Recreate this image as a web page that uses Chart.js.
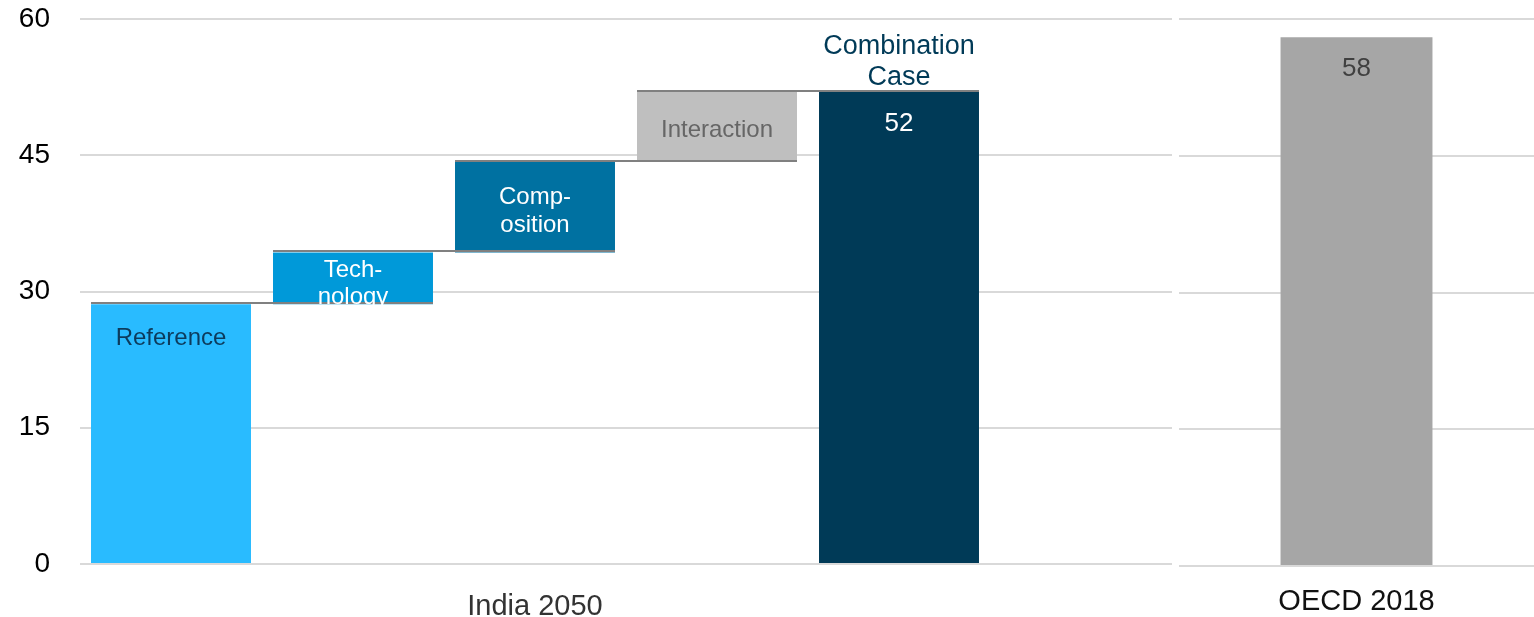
<!DOCTYPE html>
<html>
<head>
<meta charset="utf-8">
<script src="https://cdn.jsdelivr.net/npm/chart.js@4.4.1/dist/chart.umd.min.js"></script>
<style>
	html, body { margin: 0; padding: 0; background: #fff; }
	#india { position: absolute; left: 0; top: 0; width: 1173px; height: 617px; }
	#oecd { position: absolute; left: 1173px; top: 0; width: 361px; height: 617px; }
</style>
</head>
<body>
<div id="india"><canvas id="chart-india"></canvas></div>
<div id="oecd"><canvas id="chart-oecd"></canvas></div>
<script>
// India 2050 waterfall steps (low / high of each floating bar)
const indiaLabels = ['Reference', 'Technology', 'Composition', 'Interaction', 'Combination Case', ''];
const indiaLow = [0, 28.6, 34.3, 44.3, 0];
const indiaHigh = [28.6, 34.3, 44.3, 52, 52];
const indiaColors = ['#29bbff', '#0099d9', '#0071a1', '#bfbfbf', '#003a57'];

const oecdLabels = ['OECD 2018'];
const oecdValues = [58];

const yTicks = [0, 15, 30, 45, 60];

const FONT = "'Liberation Sans', Arial, sans-serif";
const gridColor = '#d9d9d9';

function yScale(showTicks, axisWidth) {
	return {
		min: yTicks[0],
		max: yTicks[yTicks.length - 1],
		afterBuildTicks: (scale) => { scale.ticks = yTicks.map(v => ({value: v})); },
		afterFit: (scale) => {
			scale.width = axisWidth;
			scale.paddingTop = 0;
			scale.paddingBottom = 0;
		},
		border: {display: false},
		grid: {color: gridColor, lineWidth: 2, drawTicks: false, tickLength: 0},
		ticks: {
			display: showTicks,
			padding: 30,
			color: '#000',
			font: {family: FONT, size: 28}
		}
	};
}

function drawLines(ctx, lines, x, yCenter, lineHeight) {
	let y0 = yCenter - (lines.length - 1) * lineHeight / 2;
	lines.forEach((t, i) => ctx.fillText(t, x, y0 + i * lineHeight));
}

// connectors between steps plus the text on and around the bars
const waterfallDecor = {
	id: 'waterfallDecor',
	afterDatasetsDraw(chart) {
		let ctx = chart.ctx;
		let y = chart.scales.y;
		let bars = chart.getDatasetMeta(0).data;

		ctx.save();
		ctx.strokeStyle = '#808080';
		ctx.lineWidth = 2;
		for (let i = 0; i < indiaHigh.length - 1; i++) {
			let a = bars[i], b = bars[i + 1];
			let py = Math.round(y.getPixelForValue(indiaHigh[i])) - 1;
			ctx.beginPath();
			ctx.moveTo(a.x - a.width / 2, py);
			ctx.lineTo(b.x + b.width / 2, py);
			ctx.stroke();
		}

		ctx.textAlign = 'center';
		ctx.textBaseline = 'middle';
		let mid = (i) => (bars[i].y + bars[i].base) / 2;

		ctx.font = '24px ' + FONT;
		ctx.fillStyle = '#0d3b5c';
		ctx.fillText('Reference', bars[0].x, bars[0].y + 34);

		ctx.fillStyle = '#fff';
		drawLines(ctx, ['Tech-', 'nology'], bars[1].x, mid(1) + 6, 27);
		drawLines(ctx, ['Comp-', 'osition'], bars[2].x, mid(2) + 4, 28);

		ctx.fillStyle = '#666';
		ctx.fillText('Interaction', bars[3].x, mid(3) + 4);

		ctx.font = '26px ' + FONT;
		ctx.fillStyle = '#fff';
		ctx.fillText(String(Math.round(indiaHigh[4])), bars[4].x, bars[4].y + 32);
		ctx.font = '27px ' + FONT;
		ctx.fillStyle = '#003a57';
		drawLines(ctx, ['Combination', 'Case'], bars[4].x, bars[4].y - 30, 31);

		ctx.font = '29px ' + FONT;
		ctx.fillStyle = '#333';
		ctx.fillText('India 2050', (bars[0].x + bars[4].x) / 2, 607);
		ctx.restore();
	}
};

const valueInside = {
	id: 'valueInside',
	afterDatasetsDraw(chart) {
		let ctx = chart.ctx;
		let bar = chart.getDatasetMeta(0).data[0];
		ctx.save();
		ctx.textAlign = 'center';
		ctx.textBaseline = 'middle';
		ctx.font = '26px ' + FONT;
		ctx.fillStyle = '#404040';
		ctx.fillText(String(oecdValues[0]), bar.x, bar.y + 32);
		ctx.restore();
	}
};

new Chart(document.querySelector('#chart-india'), {
	type: 'bar',
	data: {
		labels: indiaLabels,
		datasets: [{
			data: indiaLow.map((lo, i) => [lo, indiaHigh[i]]),
			backgroundColor: indiaColors,
			borderWidth: 0,
			borderSkipped: false,
			categoryPercentage: 1,
			barPercentage: 0.879
		}]
	},
	options: {
		responsive: true,
		maintainAspectRatio: false,
		animation: false,
		layout: {padding: {top: 19, right: 1, bottom: 53, left: 0}},
		plugins: {legend: {display: false}, tooltip: {enabled: false}},
		scales: {
			x: {display: false},
			y: yScale(true, 80)
		}
	},
	plugins: [waterfallDecor]
});

new Chart(document.querySelector('#chart-oecd'), {
	type: 'bar',
	data: {
		labels: oecdLabels,
		datasets: [{
			data: oecdValues,
			backgroundColor: '#a6a6a6',
			borderWidth: 0,
			categoryPercentage: 1,
			barPercentage: 0.428
		}]
	},
	options: {
		responsive: true,
		maintainAspectRatio: false,
		animation: false,
		layout: {padding: {top: 19, right: 0, bottom: 1, left: 6}},
		plugins: {legend: {display: false}, tooltip: {enabled: false}},
		scales: {
			x: {
				afterFit: (scale) => { scale.height = 50; },
				border: {display: false},
				grid: {display: false, drawTicks: false},
				ticks: {padding: 19, color: '#111', font: {family: FONT, size: 29}}
			},
			y: yScale(false, 0)
		}
	},
	plugins: [valueInside]
});
</script>
</body>
</html>
